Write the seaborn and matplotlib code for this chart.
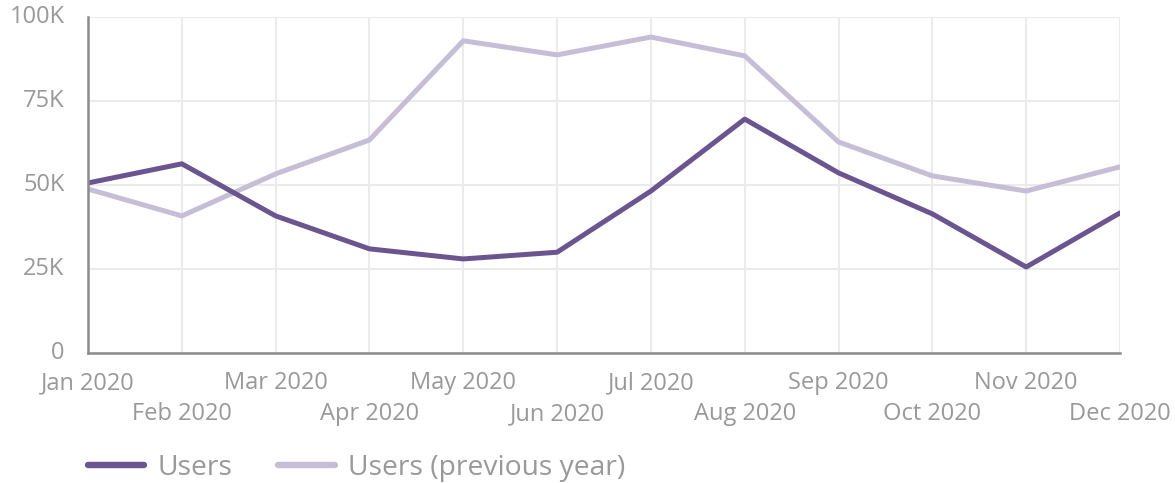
import matplotlib
matplotlib.use("Agg")
import matplotlib.pyplot as plt
import matplotlib.transforms as mtransforms
from matplotlib.lines import Line2D
import seaborn as sns
import pandas as pd

months = ["Jan 2020", "Feb 2020", "Mar 2020", "Apr 2020", "May 2020", "Jun 2020",
          "Jul 2020", "Aug 2020", "Sep 2020", "Oct 2020", "Nov 2020", "Dec 2020"]
users = [50600, 56300, 40800, 31000, 28000, 30000, 48200, 69600, 53600, 41400, 25600, 41700]
users_prev = [48800, 40800, 53300, 63400, 92900, 88700, 94000, 88400, 62800, 52700, 48200, 55400]
series_names = ["Users", "Users (previous year)"]
y_ticks = [0, 25000, 50000, 75000, 100000]
y_labels = ["0", "25K", "50K", "75K", "100K"]

colors = {"Users": "#6b5590", "Users (previous year)": "#c6bdd6"}
text_color = "#999999"

df = pd.concat([
    pd.DataFrame({"month": range(len(months)), "value": users, "series": series_names[0]}),
    pd.DataFrame({"month": range(len(months)), "value": users_prev, "series": series_names[1]}),
])

sns.set_theme(style="white")
plt.rcParams["font.family"] = ["Open Sans", "DejaVu Sans"]

fig = plt.figure(figsize=(11.75, 4.83), dpi=100)
ax = fig.add_axes([0.0749, 0.269, 0.8783, 0.696])

sns.lineplot(data=df, x="month", y="value", hue="series", palette=colors,
             hue_order=series_names[::-1], linewidth=3.6, ax=ax, legend=False,
             zorder=3)

ax.set_xlim(0, len(months) - 1)
ax.set_ylim(0, 100000)
ax.set_xticks(range(len(months)))
ax.set_xticklabels(months)
ax.set_yticks(y_ticks)
ax.set_yticklabels(y_labels)
ax.set_xlabel("")
ax.set_ylabel("")

ax.grid(True, color="#ebebeb", linewidth=1.5, zorder=0)
ax.set_axisbelow(True)
for side in ["top", "right"]:
    ax.spines[side].set_visible(False)
for side in ["left", "bottom"]:
    ax.spines[side].set_color("#8c8c8c")
    ax.spines[side].set_linewidth(1.8)
    ax.spines[side].set_zorder(4)

ax.tick_params(axis="both", length=0, colors=text_color, labelsize=17)
ax.tick_params(axis="x", pad=13)
ax.tick_params(axis="y", pad=17)
for lbl in ax.get_yticklabels():
    lbl.set_verticalalignment("center")

# stagger every other month label onto a second row
offset = mtransforms.ScaledTranslation(0, -0.31, fig.dpi_scale_trans)
for i, lbl in enumerate(ax.get_xticklabels()):
    if i % 2 == 1:
        lbl.set_transform(lbl.get_transform() + offset)

handles = [Line2D([0], [0], color=colors[n], linewidth=4.6) for n in series_names]
leg = fig.legend(handles, series_names, loc="center left", bbox_to_anchor=(0.0749, 0.031),
                 ncol=2, frameon=False, fontsize=20.3, handlelength=2.0,
                 handletextpad=0.45, columnspacing=1.65, borderpad=0, borderaxespad=0)
for t in leg.get_texts():
    t.set_color(text_color)

fig.savefig("out.png", dpi=100)
